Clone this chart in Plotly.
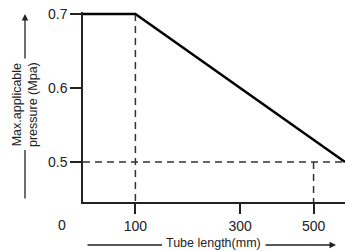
import plotly.graph_objects as go

# Data (schematic chart)
length_pts = [0, 100, 500]          # tube length (mm)
pressure_pts = [0.7, 0.7, 0.5]      # max applicable pressure (MPa)
x_tick_pos = [100, 300, 440]        # schematic tick positions as drawn
x_tick_text = ["100", "300", "500"]
y_tick_vals = [0.5, 0.6, 0.7]
y_tick_text = ["0.5", "0.6", "0.7"]
guide_x100 = [100, 100]
guide_y100 = [0.7, 0.4459]
guide_xh = [0, 500]
guide_yh = [0.5, 0.5]
guide_x500 = [440, 440]
guide_y500 = [0.5, 0.4225]

FONT = "Liberation Sans, Arial, sans-serif"
W, H = 345, 251
ml, mr, mt, mb = 83, 0, 12, 49
pw, ph = W - ml - mr, H - mt - mb

def px(x):
    return (x - ml) / pw

def py(y):
    return (H - mb - y) / ph

fig = go.Figure()
dash = "7px,5px"
for xs, ys in [(guide_x100, guide_y100), (guide_xh, guide_yh), (guide_x500, guide_y500)]:
    fig.add_trace(go.Scatter(x=xs, y=ys, mode="lines",
                             line=dict(color="#333333", width=1.5, dash=dash),
                             hoverinfo="skip", showlegend=False, cliponaxis=False))
fig.add_trace(go.Scatter(x=length_pts, y=pressure_pts, mode="lines",
                         line=dict(color="black", width=2.5),
                         showlegend=False))

fig.update_layout(
    width=W, height=H,
    margin=dict(l=ml, r=mr, t=mt, b=mb, pad=0),
    paper_bgcolor="white", plot_bgcolor="white",
    font=dict(family=FONT, color="#222222", size=14),
    xaxis=dict(range=[0, 500], showgrid=False, zeroline=False,
               showline=True, linecolor="#222222", linewidth=1.5,
               ticks="outside", ticklen=10, tickwidth=1.5, tickcolor="#222222",
               tickvals=x_tick_pos, ticktext=x_tick_text,
               tickfont=dict(size=14, family=FONT, color="#222222")),
    yaxis=dict(range=[0.7 - 190 / 740 + 2 / 740, 0.7 + 2 / 740], showgrid=False, zeroline=False,
               showline=True, linecolor="#222222", linewidth=1.5,
               ticks="outside", ticklen=11, tickwidth=1.5, tickcolor="#222222",
               tickvals=y_tick_vals, ticktext=y_tick_text,
               tickfont=dict(size=14, family=FONT, color="#222222")),
)

def seg(x0, y0, x1, y1, head):
    """line from (x0,y0) to (x1,y1) in pixel coords; optional arrowhead at (x1,y1)"""
    fig.add_annotation(text="", x=px(x1), y=py(y1), xref="paper", yref="paper",
                       ax=x0 - x1, ay=y0 - y1, showarrow=True,
                       arrowhead=2 if head else 0, arrowsize=1,
                       arrowwidth=1.3, arrowcolor="#222222")

# origin label
fig.add_annotation(text="0", x=px(62), y=py(225), xref="paper", yref="paper",
                   xanchor="center", yanchor="middle",
                   showarrow=False, font=dict(size=14, family=FONT, color="#222222"))

# x-axis title with arrow
seg(86, 245, 162, 245, False)
seg(264, 245, 336, 245, True)
fig.add_annotation(text="Tube length(mm)", x=px(213), y=py(243.5), xref="paper", yref="paper",
                   xanchor="center", yanchor="middle", showarrow=False,
                   font=dict(size=12.5, family=FONT, color="#222222"))

# y-axis title with arrow
seg(25, 200, 25, 150, False)
seg(25, 60, 25, 14, True)
fig.add_annotation(text="Max.applicable<br>pressure (Mpa)", x=px(25), y=py(105),
                   xref="paper", yref="paper", textangle=-90,
                   xanchor="center", yanchor="middle", showarrow=False,
                   font=dict(size=12.5, family=FONT, color="#222222"))

fig.write_html("out.html", config={"displayModeBar": False},
               post_script="document.body.style.margin='0';")
